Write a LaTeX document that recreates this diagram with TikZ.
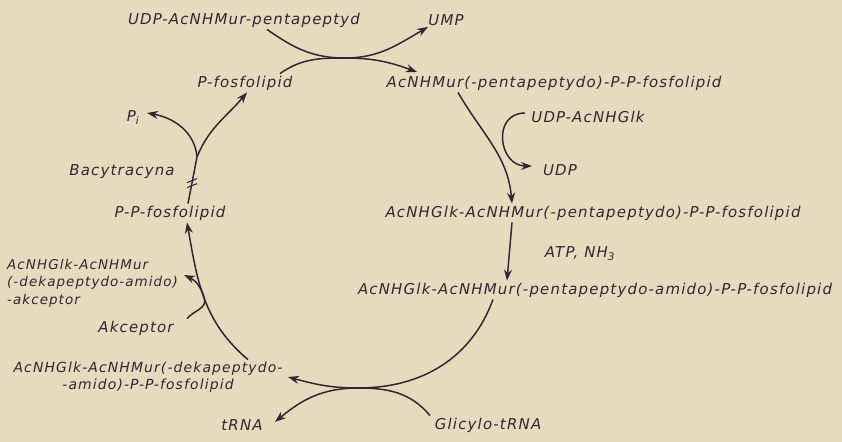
\documentclass[tikz,border=0pt]{standalone}
\usepackage{fontspec}
\setmainfont{DejaVu Sans}[LetterSpace=8]
\usetikzlibrary{arrows.meta}
\definecolor{paper}{RGB}{230,218,191}
\definecolor{ink}{RGB}{50,40,42}
\tikzset{
  lbl/.style={inner sep=2pt,text=ink,font=\itshape\fontsize{15}{17}\selectfont},
  rxn/.style={draw=ink,line width=1.5pt,-{Stealth[length=11bp,width=8bp]}},
  plain/.style={draw=ink,line width=1.5pt},
}

\begin{document}
\begin{tikzpicture}
\useasboundingbox[fill=paper] (0bp,0bp) rectangle (842bp,-442bp);

\node (udpmur) at (244bp,-20bp)[lbl] {UDP-AcNHMur-pentapeptyd};
\node (ump) at (446bp,-20bp)[lbl] {UMP};
\node (pfl) at (245bp,-83bp)[lbl] {P-fosfolipid};
\node (murppl) at (554bp,-83bp)[lbl] {AcNHMur(-pentapeptydo)-P-P-fosfolipid};
\node (udpglk) at (588bp,-117bp)[lbl] {UDP-AcNHGlk};
\node (udp) at (560bp,-170bp)[lbl] {UDP};
\node (glkmur) at (593bp,-213bp)[lbl] {AcNHGlk-AcNHMur(-pentapeptydo)-P-P-fosfolipid};
\node (atp) at (580bp,-254bp)[lbl] {ATP, NH\textsubscript{3}};
\node (glkamid) at (595bp,-290bp)[lbl] {AcNHGlk-AcNHMur(-pentapeptydo-amido)-P-P-fosfolipid};
\node (pi) at (133bp,-118bp)[lbl] {P\textsubscript{i}};
\node (bac) at (122bp,-172bp)[lbl] {Bacytracyna};
\node (ppfl) at (170bp,-213bp)[lbl] {P-P-fosfolipid};
\node (dekaakc) at (5bp,-283bp)[lbl,anchor=west,align=left,font=\itshape\fontsize{13.5}{17.5}\selectfont] {AcNHGlk-AcNHMur\\(-dekapeptydo-amido)\\-akceptor};
\node (akc) at (136bp,-328bp)[lbl] {Akceptor};
\node (dekappl) at (148bp,-377bp)[lbl,align=center,font=\itshape\fontsize{14}{17}\selectfont] {AcNHGlk-AcNHMur(-dekapeptydo-\\-amido)-P-P-fosfolipid};
\node (trna) at (242bp,-425bp)[lbl] {tRNA};
\node (gly) at (488bp,-425bp)[lbl] {Glicylo-tRNA};

\coordinate (x1) at (345bp,-58bp);
\coordinate (x3) at (358bp,-388bp);
\coordinate (br) at (197bp,-157bp);

% top exchange
\draw [rxn] ([xshift=23bp]udpmur.south) to[out=-35,in=180] (x1) to[out=0,in=210] ([xshift=-18bp,yshift=-7bp]ump.center);
\draw [rxn] ([xshift=35bp]pfl.north) to[out=35,in=180] (x1) to[out=0,in=160] ([xshift=-137bp,yshift=11bp]murppl.center);
% right side
\draw [rxn] ([xshift=-96bp]murppl.south) to[out=-60,in=95] ([xshift=-81bp]glkmur.north);
\draw [rxn] ([xshift=-63bp,yshift=4bp]udpglk.center) to[out=180,in=180,looseness=1.6] ([xshift=-28bp,yshift=4bp]udp.center);
\draw [rxn] ([xshift=-81bp]glkmur.south) -- ([xshift=-88bp]glkamid.north);
% bottom exchange
\draw [rxn] ([xshift=-102bp]glkamid.south) to[out=-110,in=0] (x3) to[out=180,in=-15] ([xshift=140bp]dekappl.center);
\draw [rxn] ([xshift=-58bp]gly.north) to[out=130,in=0] (x3) to[out=180,in=40] ([xshift=33bp,yshift=3bp]trna.center);
% left side
\draw [rxn] ([xshift=100bp]dekappl.north) to[out=140,in=-80] coordinate[pos=0.5] (j5) ([xshift=17bp]ppfl.south);
\draw [rxn] ([xshift=51bp]akc.north) to[out=50,in=-75] (j5) to[out=105,in=-25] ([xshift=4bp,yshift=8bp]dekaakc.east);
\draw [plain] ([xshift=18bp]ppfl.north) -- coordinate[pos=0.45] (blk) (br);
\foreach \ya/\yb in {0/4,-5/-1}
  \draw [plain,line width=1.1pt] ([shift={(-5bp,\ya bp)}]blk) -- ([shift={(5bp,\yb bp)}]blk);
\draw [rxn] (br) to[out=95,in=-10] ([xshift=14bp,yshift=5bp]pi.center);
\draw [rxn] (br) to[out=68,in=-130] ([xshift=2bp]pfl.south);
\end{tikzpicture}
\end{document}
